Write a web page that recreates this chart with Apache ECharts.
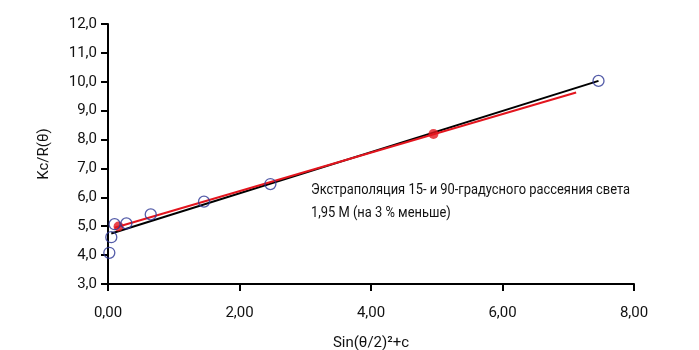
<!DOCTYPE html>
<html><head><meta charset="utf-8">
<script src="https://cdn.jsdelivr.net/npm/echarts@6/dist/echarts.min.js"></script>
<style>html,body{margin:0;padding:0;background:#fff}#c{width:699px;height:350px}</style>
</head><body><div id="c"></div>
<script>
var measuredX = [0.02, 0.05, 0.10, 0.28, 0.65, 1.46, 2.47, 7.46];
var measuredY = [4.08, 4.62, 5.07, 5.10, 5.41, 5.85, 6.46, 10.03];
var extrapX = [0.16, 4.95];
var extrapY = [4.99, 8.19];
var fitBlackX = [0.05, 7.46];
var fitBlackY = [4.75, 10.03];
var fitRedX = [0.10, 7.12];
var fitRedY = [4.95, 9.63];
var annotation = ['Экстраполяция 15- и 90-градусного рассеяния света', '1,95 M (на 3 % меньше)'];
var xName = 'Sin(θ/2)²+c';
var yName = 'Kc/R(θ)';

function zip(a, b) { return a.map(function (v, i) { return [v, b[i]]; }); }
var FONT = "'Roboto', sans-serif";
var chart = echarts.init(document.getElementById('c'));
chart.setOption({
  animation: false,
  grid: { left: 108, right: 65, top: 24, bottom: 66, containLabel: false, outerBoundsMode: 'none' },
  xAxis: {
    type: 'value', min: 0, max: 8, interval: 2,
    name: xName, nameLocation: 'middle', nameGap: 52,
    nameTextStyle: { color: '#111', fontSize: 15, fontFamily: FONT },
    axisLine: { lineStyle: { color: '#000', width: 2 } },
    axisTick: { show: true, length: 7, lineStyle: { color: '#000', width: 2 } },
    axisLabel: { color: '#111', fontSize: 15, fontFamily: FONT, margin: 22,
      formatter: function (v) { return v.toFixed(2).replace('.', ','); } },
    splitLine: { show: false }
  },
  yAxis: {
    type: 'value', min: 3, max: 12, interval: 1,
    name: yName, nameLocation: 'middle', nameGap: 56, nameRotate: 90,
    nameTextStyle: { color: '#111', fontSize: 15, fontFamily: FONT },
    axisLine: { show: true, lineStyle: { color: '#000', width: 2 } },
    axisTick: { show: true, length: 7, lineStyle: { color: '#000', width: 2 } },
    axisLabel: { color: '#111', fontSize: 15, fontFamily: FONT, margin: 11,
      formatter: function (v) { return v.toFixed(1).replace('.', ','); } },
    splitLine: { show: false }
  },
  series: [
    { type: 'line', data: zip(fitBlackX, fitBlackY), symbol: 'none',
      lineStyle: { color: '#000', width: 2 }, z: 2 },
    { type: 'line', data: zip(fitRedX, fitRedY), symbol: 'none',
      lineStyle: { color: '#e3151e', width: 2 }, z: 3 },
    { type: 'scatter', data: zip(extrapX, extrapY), symbol: 'circle', symbolSize: 10,
      itemStyle: { color: '#e3151e' }, z: 4 },
    { type: 'scatter', data: zip(measuredX, measuredY), symbol: 'circle', symbolSize: 11,
      itemStyle: { color: 'rgba(255,255,255,0)', borderColor: '#2a3593', borderWidth: 1.3 }, z: 5 }
  ],
  graphic: [
    { type: 'text', x: 311, y: 179, scaleX: 0.86, originX: 0, originY: 0,
      style: { text: annotation.join('\n'), fill: '#111', fontSize: 15, lineHeight: 23, fontFamily: FONT } }
  ]
});
</script></body></html>
